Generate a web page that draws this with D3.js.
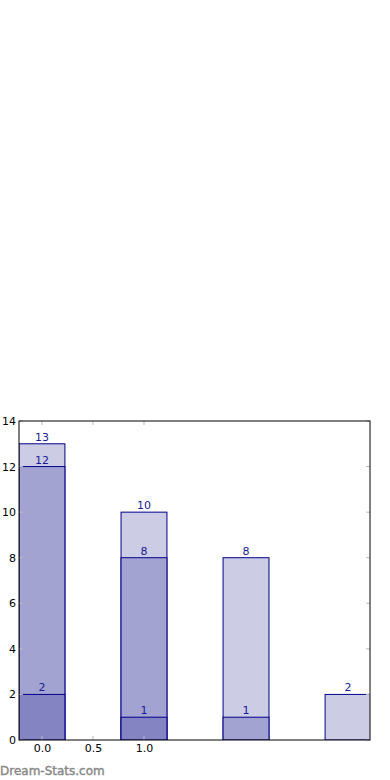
<!DOCTYPE html>
<html><head><meta charset="utf-8">
<script src="https://cdn.jsdelivr.net/npm/d3@7"></script>
<style>body{margin:0;background:#fff;}svg{display:block;font-family:"DejaVu Sans",sans-serif;}</style>
</head><body>
<svg id="c" width="390" height="780"></svg>
<script>
const positions = [0, 1, 2, 3];
const lightValues = [13, 10, 8, 2];
const mediumValues = [12, 8, 1, 0];
const darkValues = [2, 1, 0, 0];
const xTickValues = [0, 0.5, 1.0];
const yTickValues = [0, 2, 4, 6, 8, 10, 12, 14];

const svg = d3.select("#c");
const L = 19, R = 370, T = 421, B = 740;
const x = d3.scaleLinear().domain([-0.225, 3.215]).range([L, R]);
const y = d3.scaleLinear().domain([0, 14]).range([B, T]);
const bw = x(0.225) - x(-0.225);

svg.append("defs").append("clipPath").attr("id", "clip")
  .append("rect").attr("x", L).attr("y", T).attr("width", R - L).attr("height", B - T);

const layers = [
  {vals: lightValues, fill: "#ccccE5"},
  {vals: mediumValues, fill: "#a3a3d1"},
  {vals: darkValues, fill: "#8484c2"}
];
const g = svg.append("g").attr("clip-path", "url(#clip)");
layers.forEach(l => {
  g.selectAll(null).data(positions.map((p, i) => ({p, v: l.vals[i]})).filter(d => d.v > 0))
    .enter().append("rect")
    .attr("x", d => x(d.p) - bw / 2).attr("width", bw)
    .attr("y", d => y(d.v)).attr("height", d => y(0) - y(d.v))
    .attr("fill", l.fill).attr("stroke", "#00008b").attr("stroke-width", 1);
});
layers.forEach(l => {
  svg.selectAll(null).data(positions.map((p, i) => ({p, v: l.vals[i]})).filter(d => d.v > 0))
    .enter().append("text")
    .attr("x", d => x(d.p)).attr("y", d => y(d.v) - 3)
    .attr("text-anchor", "middle").attr("font-size", 11).attr("fill", "#1a1a99")
    .text(d => d.v);
});

// tick marks inside
const tickCol = "#bbbbbb";
yTickValues.forEach(v => {
  svg.append("line").attr("x1", L).attr("x2", L + 4).attr("y1", y(v)).attr("y2", y(v)).attr("stroke", tickCol);
  svg.append("line").attr("x1", R - 4).attr("x2", R).attr("y1", y(v)).attr("y2", y(v)).attr("stroke", tickCol);
});
xTickValues.forEach(v => {
  svg.append("line").attr("x1", x(v)).attr("x2", x(v)).attr("y1", B).attr("y2", B - 4).attr("stroke", tickCol);
  svg.append("line").attr("x1", x(v)).attr("x2", x(v)).attr("y1", T).attr("y2", T + 4).attr("stroke", tickCol);
});

// frame
svg.append("rect").attr("x", L).attr("y", T).attr("width", R - L).attr("height", B - T)
  .attr("fill", "none").attr("stroke", "#000").attr("stroke-width", 1);

// axes labels via d3 axes
const yAxis = d3.axisLeft(y).tickValues(yTickValues).tickSize(0).tickPadding(3).tickFormat(d3.format("d"));
const ya = svg.append("g").attr("transform", `translate(${L},0)`).call(yAxis);
const xAxis = d3.axisBottom(x).tickValues(xTickValues).tickSize(0).tickPadding(4).tickFormat(d3.format(".1f"));
const xa = svg.append("g").attr("transform", `translate(0,${B})`).call(xAxis);
[ya, xa].forEach(a => {
  a.select(".domain").remove();
  a.selectAll("text").attr("font-size", 11).attr("fill", "#000").attr("font-family", "DejaVu Sans");
});

svg.append("text").attr("x", 0).attr("y", 775).attr("font-size", 12)
  .attr("fill", "#888").attr("stroke", "#888").attr("stroke-width", 0.4).text("Dream-Stats.com");
</script>
</body></html>
